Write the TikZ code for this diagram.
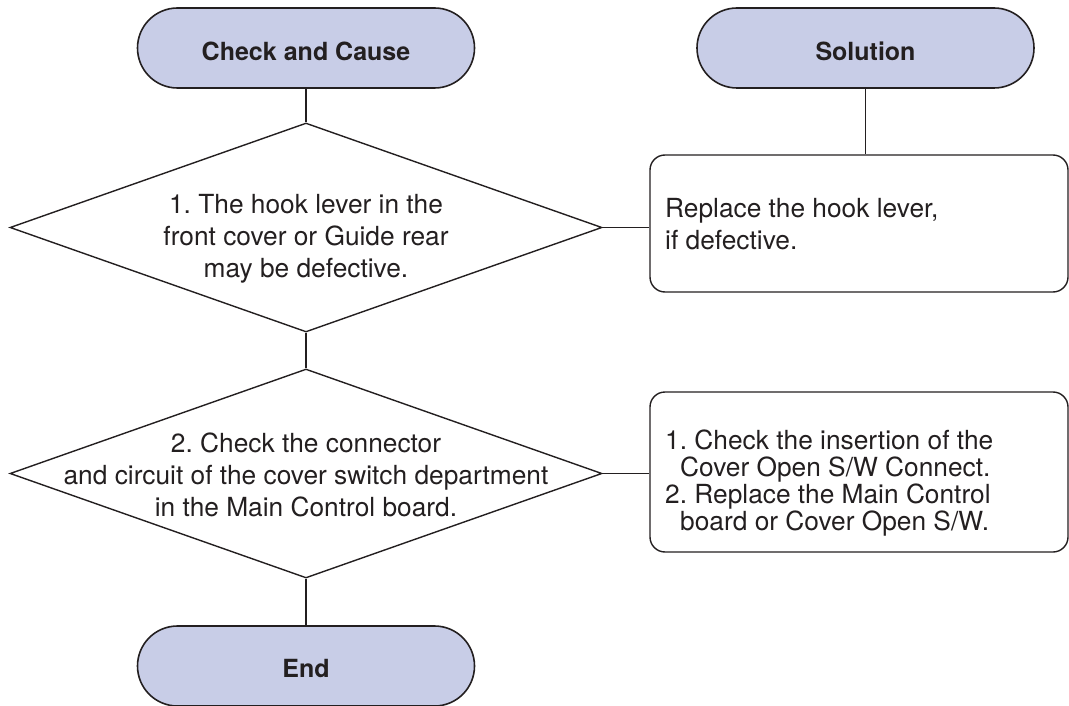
\documentclass[tikz,border=0pt]{standalone}
\usepackage{fontspec}
\setmainfont{TeX Gyre Heros}
\usetikzlibrary{shapes.geometric}
\definecolor{pillfill}{RGB}{200,205,231}
\definecolor{ink}{RGB}{35,31,32}
\frenchspacing
\begin{document}
\begin{tikzpicture}[x=1pt,y=-1pt,
  pill/.style={draw=ink, line width=1.6pt, fill=pillfill, rounded corners=40pt,
    minimum width=337pt, minimum height=80pt, inner sep=0pt,
    text=ink, font=\bfseries\fontsize{25}{30}\selectfont,
    text height=26pt, text depth=0pt},
  dia/.style={draw=ink, line width=1.4pt, diamond, minimum width=592pt,
    minimum height=209pt, inner sep=0pt},
  solbox/.style={draw=ink, line width=1.4pt, rounded corners=15pt,
    minimum width=418pt, inner sep=0pt},
  txt/.style={text=ink, font=\fontsize{26.3}{32}\selectfont, inner sep=0pt, align=center},
  soltxt/.style={text=ink, inner sep=0pt, align=left, anchor=west},
  conn/.style={draw=ink, line width=1.4pt}
]
\useasboundingbox (0,0) rectangle (1069,706);

% terminals
\node[pill] (cc) at (306,48) {Check and Cause};
\node[pill] (sol) at (865.5,48) {Solution};
\node[pill, text height=22pt] (endn) at (306,666) {End};

% decisions
\node[dia] (d1) at (306,227.5) {};
\node[txt] (d1t) at (306,238.5) {1. The hook lever in the\\front cover or Guide rear\\may be defective.};
\node[dia] (d2) at (306,473.5) {};
\node[txt] (d2t) at (306,475) {2. Check the connector\\and circuit of the cover switch department\\in the Main Control board.};

% solution boxes
\node[solbox, minimum height=137pt] (b1) at (859,223.5) {};
\node[soltxt, font=\fontsize{26.3}{32}\selectfont] (b1t) at (665,223.7) {Replace the hook lever,\\if defective.};
\node[solbox, minimum height=160pt] (b2) at (859,472) {};
\node[soltxt, font=\fontsize{26.3}{27}\selectfont] (b2t) at (665,483.4)
  {1. Check the insertion of the\\\hspace*{15pt}Cover Open S/W Connect.\\2. Replace the Main Control\\\hspace*{15pt}board or Cover Open S/W.};

% connectors
\draw[conn] (cc.south) -- (d1.north);
\draw[conn] (sol.south) -- (sol.south |- b1.north);
\draw[conn] (d1.east) -- (d1.east -| b1.west);
\draw[conn] (d1.south) -- (d2.north);
\draw[conn] (d2.east) -- (d2.east -| b2.west);
\draw[conn] (d2.south) -- (endn.north);
\end{tikzpicture}
\end{document}
